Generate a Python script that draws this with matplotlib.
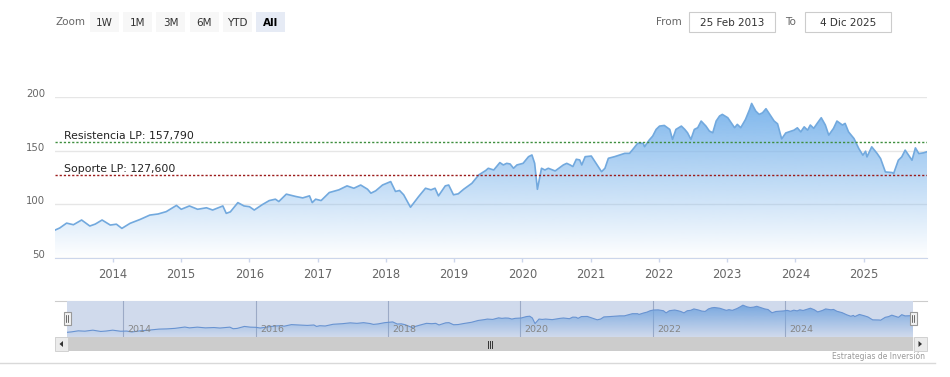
#!/usr/bin/env python
"""Price chart with long-term support / resistance lines, Highcharts-stock look
(range selector on top, navigator + scrollbar below). Saves out.png."""
import numpy as np
import matplotlib.pyplot as plt
from matplotlib.patches import Rectangle, PathPatch, Polygon
from matplotlib.transforms import ScaledTranslation

plt.rcParams["font.family"] = ["DejaVu Sans"]

W, H = 950, 377

# price series (decimal year, value)
years = [
    2013.15, 2013.22, 2013.32, 2013.42, 2013.54, 2013.66, 2013.74, 2013.84, 2013.96, 2014.05,
    2014.13, 2014.25, 2014.40, 2014.54, 2014.66, 2014.78, 2014.93, 2015.00, 2015.12, 2015.24,
    2015.37, 2015.46, 2015.61, 2015.66, 2015.72, 2015.83, 2015.92, 2016.00, 2016.07, 2016.19,
    2016.29, 2016.38, 2016.43, 2016.54, 2016.68, 2016.78, 2016.88, 2016.92, 2016.97, 2017.05,
    2017.17, 2017.31, 2017.43, 2017.53, 2017.63, 2017.73, 2017.78, 2017.85, 2017.95, 2018.07,
    2018.14, 2018.20, 2018.26, 2018.36, 2018.48, 2018.58, 2018.66, 2018.72, 2018.77, 2018.87,
    2018.92, 2018.99, 2019.06, 2019.14, 2019.26, 2019.36, 2019.46, 2019.50, 2019.58, 2019.67,
    2019.72, 2019.77, 2019.82, 2019.87, 2019.92, 2020.01, 2020.09, 2020.14, 2020.18, 2020.22,
    2020.28, 2020.33, 2020.38, 2020.48, 2020.60, 2020.65, 2020.70, 2020.74, 2020.79, 2020.84,
    2020.87, 2020.92, 2021.01, 2021.08, 2021.16, 2021.21, 2021.26, 2021.35, 2021.50, 2021.57,
    2021.62, 2021.69, 2021.77, 2021.79, 2021.86, 2021.91, 2021.96, 2022.01, 2022.08, 2022.16,
    2022.20, 2022.25, 2022.33, 2022.38, 2022.42, 2022.47, 2022.52, 2022.57, 2022.62, 2022.69,
    2022.74, 2022.79, 2022.84, 2022.89, 2022.93, 2023.01, 2023.11, 2023.15, 2023.20, 2023.27,
    2023.33, 2023.36, 2023.42, 2023.47, 2023.52, 2023.57, 2023.64, 2023.69, 2023.74, 2023.80,
    2023.86, 2023.98, 2024.03, 2024.08, 2024.13, 2024.18, 2024.22, 2024.27, 2024.32, 2024.38,
    2024.44, 2024.49, 2024.56, 2024.61, 2024.69, 2024.73, 2024.78, 2024.86, 2024.93, 2024.99,
    2025.03, 2025.05, 2025.12, 2025.20, 2025.25, 2025.32, 2025.42, 2025.44, 2025.51, 2025.56,
    2025.61, 2025.66, 2025.71, 2025.76, 2025.81, 2025.88, 2025.93,
]
prices = [
    76.0, 78.0, 82.5, 81.0, 85.4, 79.8, 81.6, 85.4, 80.7, 81.5,
    77.6, 82.3, 86.0, 90.0, 91.0, 93.2, 99.0, 95.4, 98.5, 95.4,
    96.8, 94.7, 98.5, 91.6, 93.0, 101.6, 98.5, 97.8, 94.7, 99.8,
    103.5, 104.8, 102.6, 109.5, 107.3, 106.0, 107.9, 101.6, 104.8, 103.5,
    111.0, 113.5, 117.2, 115.0, 118.0, 114.1, 110.4, 112.6, 118.0, 121.2,
    112.0, 112.9, 108.9, 97.3, 107.3, 115.0, 113.5, 115.0, 107.9, 117.2,
    118.0, 108.9, 109.8, 114.1, 119.6, 127.4, 131.4, 133.6, 132.0, 138.9,
    136.7, 138.2, 137.6, 133.6, 136.7, 138.2, 144.4, 146.0, 138.2, 114.0,
    133.6, 132.0, 133.6, 131.1, 136.7, 138.2, 136.7, 135.2, 142.0, 141.4,
    136.7, 144.4, 145.0, 138.2, 130.4, 133.6, 142.9, 144.4, 147.5, 147.5,
    151.3, 156.9, 156.9, 153.7, 160.0, 163.6, 169.8, 172.9, 173.5, 169.8,
    160.5, 169.8, 172.9, 169.8, 166.7, 160.5, 169.8, 171.4, 177.6, 172.9,
    168.3, 166.7, 177.6, 182.3, 183.8, 180.7, 171.4, 174.5, 171.4, 179.1,
    188.4, 194.0, 186.9, 183.8, 185.3, 189.1, 182.3, 177.6, 175.0, 161.0,
    166.5, 169.1, 171.3, 167.5, 172.2, 169.1, 173.9, 170.8, 175.4, 180.7,
    173.9, 164.5, 170.8, 177.6, 173.9, 175.4, 167.5, 161.3, 152.0, 145.8,
    149.5, 144.2, 153.6, 147.3, 142.6, 130.2, 129.6, 128.6, 141.1, 144.2,
    150.5, 145.8, 141.1, 152.6, 147.3, 148.0, 149.0,
]

resistencia = 157.79
soporte = 127.60
resistencia_label = "Resistencia LP: 157,790"
soporte_label = "Soporte LP: 127,600"

main_xticks = list(range(2014, 2026))
nav_xticks = list(range(2014, 2025, 2))
yticks = [50, 100, 150, 200]
zoom_buttons = ["1W", "1M", "3M", "6M", "YTD", "All"]
selected_button = "All"
date_from = "25 Feb 2013"
date_to = "4 Dic 2025"
credits = "Estrategias de Inversión"

SERIES_RGB = (124 / 255, 181 / 255, 236 / 255)
LINE = "#72a9de"


def px_axes(fig, x0, y0, x1, y1, **kw):
    """axes from a pixel box (origin top-left)"""
    return fig.add_axes([x0 / W, 1 - y1 / H, (x1 - x0) / W, (y1 - y0) / H], **kw)


def gradient_area(ax, x, y, base, top, alpha_top, zorder=1):
    poly = ax.fill_between(x, y, base, color="none", lw=0)
    clip = PathPatch(poly.get_paths()[0], transform=ax.transData,
                     fc="none", ec="none")
    ax.add_patch(clip)
    rgba = np.zeros((256, 1, 4))
    rgba[..., :3] = SERIES_RGB
    rgba[:, 0, 3] = np.linspace(0, alpha_top, 256)
    im = ax.imshow(rgba, extent=[x[0], x[-1], base, top], origin="lower",
                   aspect="auto", zorder=zorder, interpolation="bilinear")
    im.set_clip_path(clip)


def draw_main(fig):
    ax = px_axes(fig, 55, 97, 927, 258)
    ax.set_facecolor("none")
    x0, x1 = years[0], years[-1]
    gradient_area(ax, years, prices, 50, 196, 1.0)
    ax.plot(years, prices, color=LINE, lw=1.2, zorder=3)

    ax.axhline(resistencia, color="#3f8f3f", lw=1.0, ls=(0, (1.6, 1.4)), zorder=4)
    ax.axhline(soporte, color="#9c1c1c", lw=1.0, ls=(0, (1.6, 1.4)), zorder=4)
    for val, txt in ((resistencia, resistencia_label), (soporte, soporte_label)):
        ax.annotate(txt, (0, val), xycoords=("axes fraction", "data"),
                    xytext=(6.5, 2.2), textcoords="offset points",
                    va="baseline", ha="left", fontsize=7.8, color="#222222", zorder=5)

    ax.set_xlim(x0, x1)
    ax.set_ylim(50, 200)
    for s in ("top", "left", "right"):
        ax.spines[s].set_visible(False)
    ax.spines["bottom"].set_color("#ccd6eb")
    ax.set_yticks(yticks)
    ax.grid(axis="y", color="#e6e6e6", lw=1.0, zorder=0)
    ax.set_axisbelow(True)
    ax.tick_params(axis="y", length=0, pad=7, labelsize=7.3, labelcolor="#666666")
    up = ScaledTranslation(0, 4 / 100, fig.dpi_scale_trans)
    for lab in ax.get_yticklabels():
        lab.set_transform(lab.get_transform() + up)
    ax.set_xticks(main_xticks)
    ax.set_xticklabels([str(t) for t in main_xticks])
    ax.tick_params(axis="x", length=3, width=1, color="#ccd6eb", pad=4.3,
                   labelsize=8.3, labelcolor="#666666")
    return ax


def draw_navigator(fig):
    ax = px_axes(fig, 67, 301, 913, 336.7)
    ax.set_facecolor("white")
    gradient_area(ax, years, prices, 57, 200, 1.0)
    ax.plot(years, prices, color="#6a9ad8", lw=0.8, zorder=2)
    for t in nav_xticks:
        ax.axvline(t, color="#b4bac8", lw=0.8, zorder=0.5)
        ax.annotate(str(t), (t, 0.21), xycoords=ax.get_xaxis_transform(),
                    xytext=(3, 0), textcoords="offset points", va="center",
                    ha="left", fontsize=6.8, color="#858585", zorder=6)
    ax.axvspan(years[0], years[-1], color="#6685c2", alpha=0.3, lw=0, zorder=4)
    ax.set_xlim(years[0], years[-1])
    ax.set_ylim(57, 212)
    ax.set_xticks([])
    ax.set_yticks([])
    for s in ax.spines.values():
        s.set_visible(False)


def draw_chrome(bg, fg):
    # range selector
    bg.text(55, 22, "Zoom", fontsize=7.5, color="#666666", va="center", ha="left")
    for i, lab in enumerate(zoom_buttons):
        bx = 90 + i * 33.2
        sel = lab == selected_button
        bg.add_patch(Rectangle((bx, 12), 29, 20, fc="#e6ebf5" if sel else "#f7f7f7",
                               ec="none"))
        bg.text(bx + 14.5, 22.5, lab, fontsize=7.5, ha="center", va="center",
                color="#000000" if sel else "#333333",
                fontweight="bold" if sel else "normal")
    bg.text(656, 22, "From", fontsize=7.5, color="#666666", va="center", ha="left")
    bg.text(785, 22, "To", fontsize=7.5, color="#666666", va="center", ha="left")
    for bx, txt in ((689, date_from), (805, date_to)):
        bg.add_patch(Rectangle((bx, 12), 86, 20, fc="white", ec="#cccccc", lw=0.8))
        bg.text(bx + 43, 22.5, txt, fontsize=7.5, ha="center", va="center",
                color="#333333")

    # navigator outline, scrollbar, handles
    bg.plot([55, 927], [301, 301], color="#cccccc", lw=0.8)
    fg.add_patch(Rectangle((55, 337), 872, 14, fc="#f2f2f2", ec="none"))
    fg.add_patch(Rectangle((67, 337), 846, 14, fc="#cccccc", ec="none"))
    for bx in (55, 914):
        fg.add_patch(Rectangle((bx, 337), 12.5, 14, fc="#ebebeb", ec="#cccccc", lw=0.6))
    fg.add_patch(Polygon([[63, 341], [63, 347], [59.5, 344]], closed=True, fc="#333333"))
    fg.add_patch(Polygon([[918.5, 341], [918.5, 347], [922, 344]], closed=True, fc="#333333"))
    for gx in (488, 490, 492):
        fg.plot([gx, gx], [340.5, 347.5], color="#333333", lw=0.7)
    for hx in (67, 913):
        fg.add_patch(Rectangle((hx - 3.5, 312), 7, 13, fc="#f2f2f2", ec="#999999", lw=0.8))
        for dx in (-1, 1):
            fg.plot([hx + dx, hx + dx], [315, 322], color="#333333", lw=0.5)

    bg.text(925, 356, credits, fontsize=5.5, color="#999999", ha="right", va="center")
    bg.plot([0, 935], [363, 363], color="#d9d9d9", lw=1)


def main():
    fig = plt.figure(figsize=(W / 100, H / 100), dpi=100)
    fig.patch.set_facecolor("white")
    bg = fig.add_axes([0, 0, 1, 1], zorder=0)
    fg = fig.add_axes([0, 0, 1, 1], zorder=5)
    for a in (bg, fg):
        a.set_xlim(0, W)
        a.set_ylim(H, 0)
        a.axis("off")
        a.patch.set_visible(False)
    ax = draw_main(fig)
    ax.set_zorder(2)
    draw_navigator(fig)
    draw_chrome(bg, fg)
    fig.savefig("out.png", dpi=100)
    plt.close(fig)


if __name__ == "__main__":
    main()
